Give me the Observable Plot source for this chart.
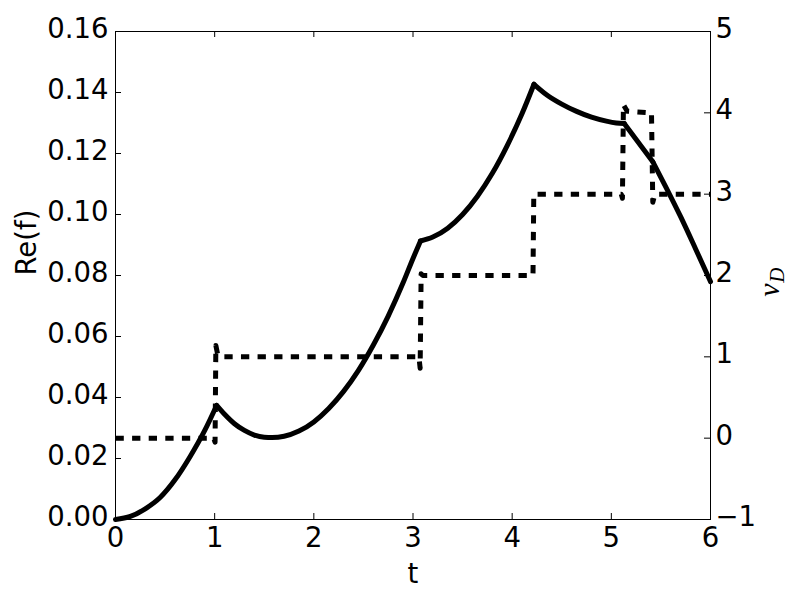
<!DOCTYPE html>
<html>
<head>
<meta charset="utf-8">
<script src="https://cdn.jsdelivr.net/npm/d3@7"></script>
<script src="https://cdn.jsdelivr.net/npm/@observablehq/plot@0.6"></script>
<style>
  html, body { margin: 0; padding: 0; background: #fff; }
  #chart { width: 800px; height: 600px; }
</style>
</head>
<body>
<div id="chart"></div>
<script>
// ---- data ----
const xTicks = [0, 1, 2, 3, 4, 5, 6];
const reTicks = [0, 0.02, 0.04, 0.06, 0.08, 0.10, 0.12, 0.14, 0.16];
const nuTicks = [-1, 0, 1, 2, 3, 4, 5];

// kinks of the solid curve (times where the slope jumps)
const kinkT = [1.02, 3.075, 4.22, 5.13, 5.42];

const tRe = [0, 0.15, 0.3, 0.45, 0.6, 0.75, 0.9, 1.02,
  1.1, 1.2, 1.3, 1.4, 1.5, 1.58, 1.7, 1.85, 2.0, 2.15, 2.3, 2.45, 2.6, 2.75, 2.9, 3.0, 3.075,
  3.2, 3.35, 3.5, 3.65, 3.8, 3.95, 4.1, 4.22,
  4.35, 4.5, 4.65, 4.8, 4.95, 5.05, 5.13,
  5.42, 5.55, 5.7, 5.85, 6.0];
const reF = [0, 0.0010, 0.0035, 0.0072, 0.0130, 0.0205, 0.0292, 0.0374,
  0.0345, 0.0314, 0.0292, 0.0277, 0.0270, 0.0269, 0.0273, 0.0290, 0.0320, 0.0364, 0.0420, 0.0489, 0.0572, 0.0667, 0.0776, 0.0856, 0.0913,
  0.0926, 0.0955, 0.1000, 0.1060, 0.1135, 0.1226, 0.1331, 0.1427,
  0.1392, 0.1362, 0.1338, 0.1319, 0.1306, 0.1300, 0.1298,
  0.1172, 0.1090, 0.0992, 0.0887, 0.0780];

const tNu = [0, 0.99, 1.004, 1.012, 1.03, 1.07, 3.06, 3.072, 3.082, 3.10, 4.21, 4.218,
  5.10, 5.112, 5.122, 5.16, 5.405, 5.418, 5.44, 6.0];
const nuD = [0, 0, -0.05, 1.14, 1.03, 1.0, 1.0, 0.86, 2.02, 2.0, 2.0, 3.0,
  3.0, 2.95, 4.1, 4.02, 4.0, 2.9, 3.0, 3.0];

const reDomain = [0, 0.16];
const nuDomain = [-1, 5];

// ---- build tables ----
const toLeft = v => (v - nuDomain[0]) / (nuDomain[1] - nuDomain[0]) * (reDomain[1] - reDomain[0]) + reDomain[0];
const toNu = y => (y - reDomain[0]) / (reDomain[1] - reDomain[0]) * (nuDomain[1] - nuDomain[0]) + nuDomain[0];

// split the solid curve into smooth pieces between kinks (kink points shared)
const reData = [];
tRe.forEach((t, i) => {
  let seg = kinkT.filter(k => t > k + 1e-9).length;
  reData.push({t, v: reF[i], seg});
  if (kinkT.some(k => Math.abs(k - t) < 1e-9)) reData.push({t, v: reF[i], seg: seg + 1});
});
const nuData = tNu.map((t, i) => ({t, v: toLeft(nuD[i])}));
const nuTickPos = nuTicks.map(toLeft);

const W = 800, H = 600, ML = 115, MR = 90, MT = 31, MB = 81;
const PW = W - ML - MR, PH = H - MT - MB;
const TL = 6;
const FS = 27.5;
const fmtNu = d3.format("d");

const chart = Plot.plot({
  width: W, height: H,
  marginLeft: ML, marginRight: MR, marginTop: MT, marginBottom: MB,
  x: {domain: [0, 6]},
  y: {domain: reDomain},
  style: {fontFamily: "DejaVu Sans", fontSize: FS + "px", background: "white", color: "black"},
  marks: [
    Plot.axisX(xTicks, {tickSize: 0, tickPadding: 8, fontSize: FS, label: null, tickFormat: d3.format("d")}),
    Plot.axisY(reTicks, {anchor: "left", tickSize: 0, tickPadding: 7, dy: -2.3, fontSize: FS, label: null, tickFormat: d3.format(".2f")}),
    Plot.axisY(nuTickPos, {anchor: "right", tickSize: 0, tickPadding: 5, dy: -2.3, fontSize: FS, label: null,
      tickFormat: d => fmtNu(Math.round(toNu(d)))}),
    Plot.tickY(reTicks, {y: d => d, insetRight: PW - TL, stroke: "black", strokeWidth: 1}),
    Plot.tickY(nuTickPos, {y: d => d, insetLeft: PW - TL, stroke: "black", strokeWidth: 1}),
    Plot.tickX(xTicks, {x: d => d, insetTop: PH - TL, stroke: "black", strokeWidth: 1}),
    Plot.tickX(xTicks, {x: d => d, insetBottom: PH - TL, stroke: "black", strokeWidth: 1}),
    Plot.line(nuData, {x: "t", y: "v", stroke: "black", strokeWidth: 5, strokeDasharray: "8.3,8.3", strokeLinecap: "butt", strokeLinejoin: "round"}),
    Plot.line(reData, {x: "t", y: "v", z: "seg", curve: "monotone-x", stroke: "black", strokeWidth: 5, strokeLinecap: "round", strokeLinejoin: "round"}),
    Plot.frame({stroke: "black", strokeWidth: 1}),
    Plot.text(["t"], {frameAnchor: "bottom", lineAnchor: "bottom", dy: 63, fontSize: FS, fill: "black"}),
    Plot.text(["Re(f)"], {frameAnchor: "left", lineAnchor: "bottom", rotate: -90, dx: -80, fontSize: FS, fill: "black"}),
    Plot.text(["ν"], {frameAnchor: "right", lineAnchor: "bottom", rotate: -90, dx: 68, dy: 8, fontSize: 30, fontStyle: "italic", fontFamily: "Liberation Serif", fill: "black"}),
    Plot.text(["D"], {frameAnchor: "right", lineAnchor: "bottom", rotate: -90, dx: 73, dy: -8, fontSize: 21, fontStyle: "italic", fontFamily: "Liberation Serif", fill: "black"})
  ]
});
document.getElementById("chart").appendChild(chart);
</script>
</body>
</html>
